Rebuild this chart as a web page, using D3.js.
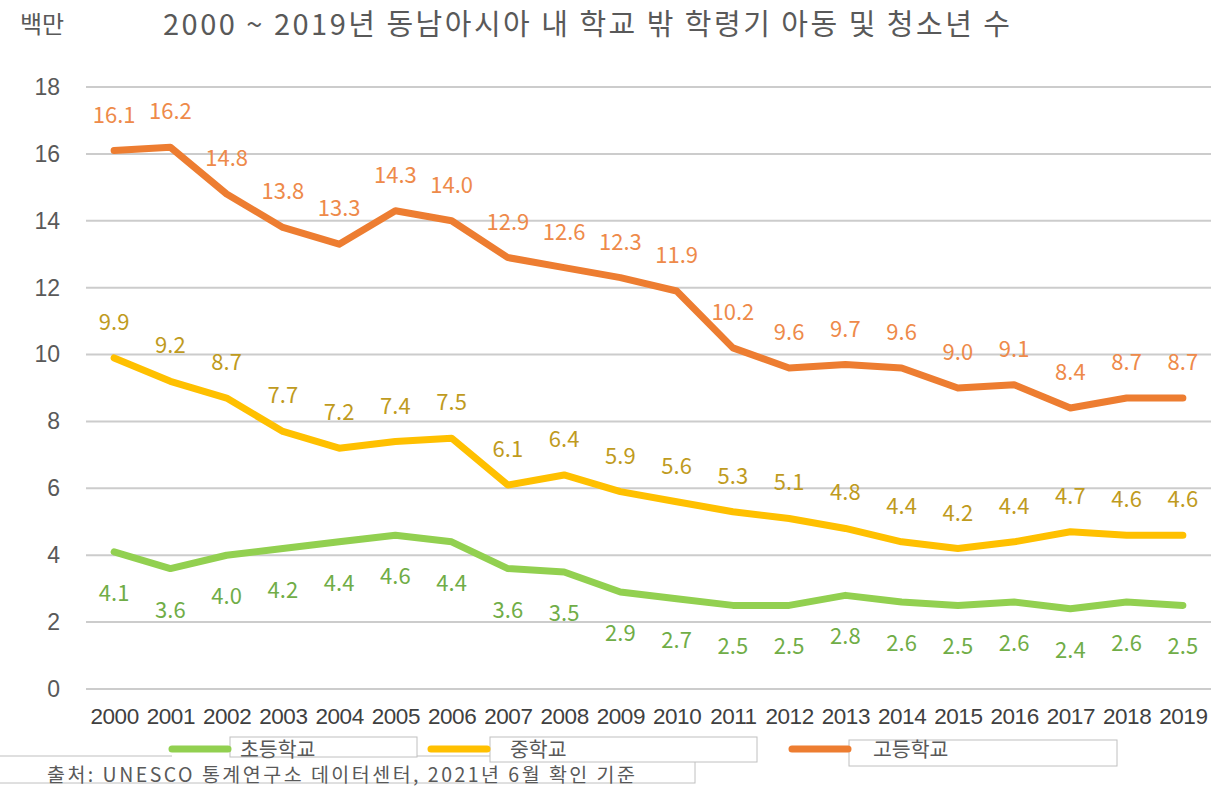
<!DOCTYPE html>
<html>
<head>
<meta charset="utf-8">
<script src="https://cdn.jsdelivr.net/npm/d3@7"></script>
<style>
  html, body { margin: 0; padding: 0; background: #fff; }
  svg { display: block; font-family: "Noto Sans CJK KR", "Noto Sans", sans-serif; }
</style>
</head>
<body>
<div id="chart"></div>
<script>
const years = ['2000','2001','2002','2003','2004','2005','2006','2007','2008','2009',
  '2010','2011','2012','2013','2014','2015','2016','2017','2018','2019'];
const primary = [4.1, 3.6, 4.0, 4.2, 4.4, 4.6, 4.4, 3.6, 3.5, 2.9, 2.7, 2.5, 2.5, 2.8, 2.6, 2.5, 2.6, 2.4, 2.6, 2.5];
const middle = [9.9, 9.2, 8.7, 7.7, 7.2, 7.4, 7.5, 6.1, 6.4, 5.9, 5.6, 5.3, 5.1, 4.8, 4.4, 4.2, 4.4, 4.7, 4.6, 4.6];
const high = [16.1, 16.2, 14.8, 13.8, 13.3, 14.3, 14.0, 12.9, 12.6, 12.3, 11.9, 10.2, 9.6, 9.7, 9.6, 9.0, 9.1, 8.4, 8.7, 8.7];
const seriesNames = ['초등학교', '중학교', '고등학교'];
const yTicks = [0, 2, 4, 6, 8, 10, 12, 14, 16, 18];

const W = 1211, H = 787;
const svg = d3.select('#chart').append('svg').attr('width', W).attr('height', H);

const x = d3.scalePoint().domain(years).range([86, 1211]).padding(0.5);
const y = d3.scaleLinear().domain([0, 18]).range([689, 87]);

// Title
svg.append('text').attr('x', 20).attr('y', 33).attr('font-size', 24).attr('fill', '#595959').text('백만');
svg.append('text').attr('x', 163).attr('y', 35).attr('font-size', 29).attr('fill', '#595959')
  .attr('textLength', 847).attr('lengthAdjust', 'spacing')
  .text('2000 ~ 2019년 동남아시아 내 학교 밖 학령기 아동 및 청소년 수');

// Grid lines
svg.append('g').selectAll('line').data(yTicks).enter().append('line')
  .attr('x1', 86).attr('x2', 1211)
  .attr('y1', (d) => y(d)).attr('y2', (d) => y(d))
  .attr('stroke', '#cccccc').attr('stroke-width', 2);

// Y axis labels
const yAxis = svg.append('g').attr('transform', 'translate(68,0)')
  .call(d3.axisLeft(y).tickValues(yTicks).tickSize(0).tickPadding(8));
yAxis.select('.domain').remove();
yAxis.selectAll('text').attr('font-size', 23).attr('fill', '#595959').attr('font-family', null);

// X axis labels
const xAxis = svg.append('g').attr('transform', 'translate(0,704)')
  .call(d3.axisBottom(x).tickSize(0).tickPadding(4));
xAxis.select('.domain').remove();
xAxis.selectAll('text').attr('font-size', 22.5).attr('fill', '#404040').attr('font-family', null)
  .attr('letter-spacing', -0.5);

const series = [
  { name: seriesNames[0], values: primary, color: '#92D050', labelColor: '#70AD47', dy: 49 },
  { name: seriesNames[1], values: middle, color: '#FFC000', labelColor: '#BF9B1E', dy: -28 },
  { name: seriesNames[2], values: high, color: '#ED7D31', labelColor: '#EE8A4A', dy: -28 }
];

const line = d3.line().x((d, i) => x(years[i])).y((d) => y(d));

series.forEach((s) => {
  svg.append('path').datum(s.values)
    .attr('d', line)
    .attr('fill', 'none')
    .attr('stroke', s.color)
    .attr('stroke-width', 7)
    .attr('stroke-linejoin', 'round')
    .attr('stroke-linecap', 'round');

  svg.append('g').selectAll('text').data(s.values).enter().append('text')
    .attr('x', (d, i) => x(years[i]))
    .attr('y', (d) => y(d) + s.dy)
    .attr('text-anchor', 'middle')
    .attr('font-size', 22)
    .attr('fill', s.labelColor)
    .text((d) => d.toFixed(1));
});

// Legend / source boxes (overlapping as in the original)
const box = svg.append('g').attr('fill', '#fff').attr('stroke', '#c0c0c0').attr('stroke-width', 1);
box.append('rect').attr('x', -2).attr('y', 756).attr('width', 697).attr('height', 27);
box.append('rect').attr('x', 172).attr('y', 737).attr('width', 58).attr('height', 22).attr('stroke', 'none');
box.append('rect').attr('x', 230).attr('y', 737).attr('width', 187).attr('height', 20);
box.append('rect').attr('x', 490).attr('y', 737).attr('width', 267).attr('height', 25);
box.append('rect').attr('x', 849).attr('y', 740).attr('width', 268).attr('height', 26);

svg.append('text').attr('x', 47).attr('y', 782).attr('font-size', 19.5).attr('fill', '#595959')
  .attr('textLength', 588).attr('lengthAdjust', 'spacing')
  .text('출처: UNESCO 통계연구소 데이터센터, 2021년 6월 확인 기준');

const legendX = [[172, 240], [431, 510], [792, 873]];
series.forEach((s, i) => {
  svg.append('line')
    .attr('x1', legendX[i][0]).attr('x2', legendX[i][0] + 56)
    .attr('y1', 749).attr('y2', 749)
    .attr('stroke', s.color).attr('stroke-width', 7).attr('stroke-linecap', 'round');
  svg.append('text').attr('x', legendX[i][1]).attr('y', 757)
    .attr('font-size', 20.5).attr('fill', '#595959').text(s.name);
});
</script>
</body>
</html>
